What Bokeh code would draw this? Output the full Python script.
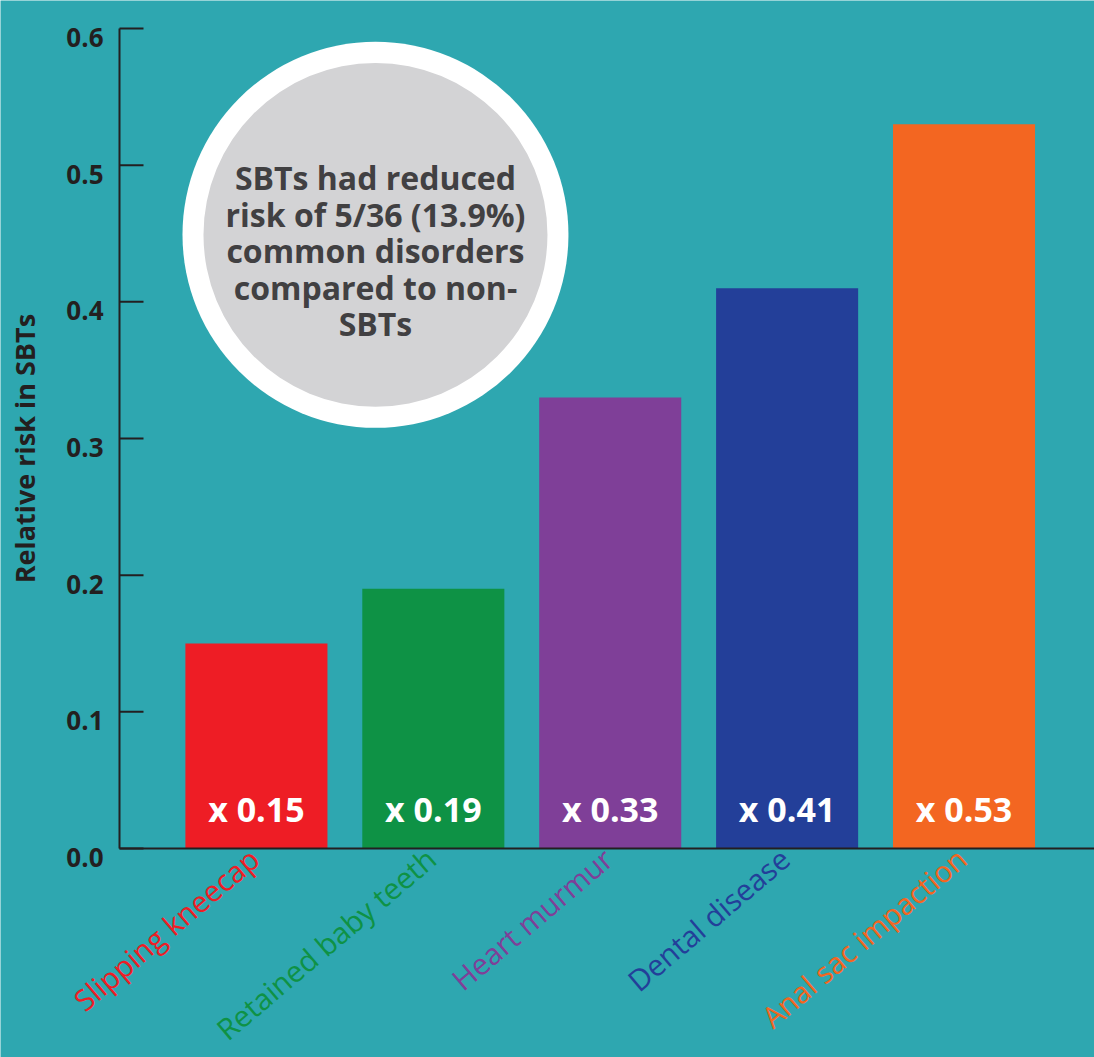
import numpy as np
from bokeh.plotting import figure
from bokeh.models import Range1d, FixedTicker, ColumnDataSource
from bokeh.core.properties import value
from bokeh.embed import file_html
from bokeh.resources import INLINE

# ---- data ----
categories = ["Slipping kneecap", "Retained baby teeth", "Heart murmur", "Dental disease", "Anal sac impaction"]
risk = [0.15, 0.19, 0.33, 0.41, 0.53]
bar_colors = ["#EE1D25", "#0E9245", "#7F3F98", "#233F99", "#F36621"]
value_labels = ["x 0.15", "x 0.19", "x 0.33", "x 0.41", "x 0.53"]
y_ticks = [0.0, 0.1, 0.2, 0.3, 0.4, 0.5, 0.6]
y_tick_labels = ["0.0", "0.1", "0.2", "0.3", "0.4", "0.5", "0.6"]
y_title = "Relative risk in SBTs"
note = "SBTs had reduced\nrisk of 5/36 (13.9%)\ncommon disorders\ncompared to non-\nSBTs"

BG = "#2EA7B0"
INK = "#231F20"
FONT = "Open Sans"

W, H = 1094, 1057
LEFT, TOP, AXIS_Y = 119, 28, 848      # axis geometry in pixels
PX_PER_X = 176.9                       # pixels per category slot
PX_PER_Y = 1367.0                      # pixels per unit of risk
X0 = -0.274                            # data x at the y axis
X1 = X0 + (W - LEFT) / PX_PER_X
Y_TOP = 0.6
TICK_LEN = 24 / PX_PER_X

xpos = np.arange(len(categories)) + 0.5

p = figure(width=W, height=H, output_backend="svg", toolbar_location=None,
           x_range=Range1d(X0 - LEFT / PX_PER_X, X1),
           y_range=Range1d(-(H - AXIS_Y) / PX_PER_Y, Y_TOP + TOP / PX_PER_Y),
           min_border=0)
p.background_fill_color = BG
p.border_fill_color = BG
p.outline_line_color = None
p.grid.visible = False

src = ColumnDataSource(dict(x=xpos, top=risk, color=bar_colors, vlab=value_labels, cat=categories))
p.vbar(x="x", top="top", bottom=0, width=0.803, fill_color="color", line_color=None, source=src)

p.text(x="x", y=0.029, text="vlab", source=src, text_color="white",
       text_font=value(FONT), text_font_style="bold", text_font_size="34px",
       text_align="center", text_baseline="middle")

# x axis: line only, placed at y = 0
p.xaxis.fixed_location = 0
p.xaxis.bounds = (X0, X1)
p.xaxis.ticker = FixedTicker(ticks=[])
p.xaxis.axis_line_color = INK
p.xaxis.axis_line_width = 2
p.xaxis.minor_tick_line_color = None

# y axis placed at x = X0: line from the axis; inward ticks and labels below each tick
p.yaxis.fixed_location = X0
p.yaxis.bounds = (0, Y_TOP)
p.yaxis.ticker = FixedTicker(ticks=[])
p.yaxis.axis_line_color = INK
p.yaxis.axis_line_width = 2
p.yaxis.major_tick_out = 0
p.yaxis.minor_tick_line_color = None

n = len(y_ticks)
p.segment(x0=[X0] * n, x1=[X0 + TICK_LEN] * n, y0=y_ticks, y1=y_ticks,
          line_color=INK, line_width=2)
p.text(x=[X0] * n, y=y_ticks, text=y_tick_labels, x_offset=-16, y_offset=9,
       text_align="right", text_baseline="middle", text_color=INK,
       text_font=value(FONT), text_font_style="bold", text_font_size="26px")
p.text(x=[X0], y=[0.2926], text=[y_title], x_offset=-95, angle=np.pi / 2,
       text_align="center", text_baseline="middle", text_color=INK,
       text_font=value(FONT), text_font_style="bold", text_font_size="27px")

# rotated category labels under the axis
p.text(x=xpos - 0.012, y=-0.004, text=categories, angle=0.705,
       text_align="right", text_baseline="middle", text_color=bar_colors,
       text_font=value(FONT), text_font_size="29.5px")

# circle note
cx, cy = 1.173, 0.449
p.scatter(x=[cx], y=[cy], size=386, marker="circle", fill_color="white", line_color=None)
p.scatter(x=[cx], y=[cy], size=344, marker="circle", fill_color="#D3D3D5", line_color=None)
p.text(x=[cx], y=[0.4375], text=[note], text_color="#414042", text_font=value(FONT),
       text_font_style="bold", text_font_size="32px", text_align="center",
       text_baseline="middle", text_line_height=0.85)

open("out.html", "w").write(file_html(p, INLINE))
